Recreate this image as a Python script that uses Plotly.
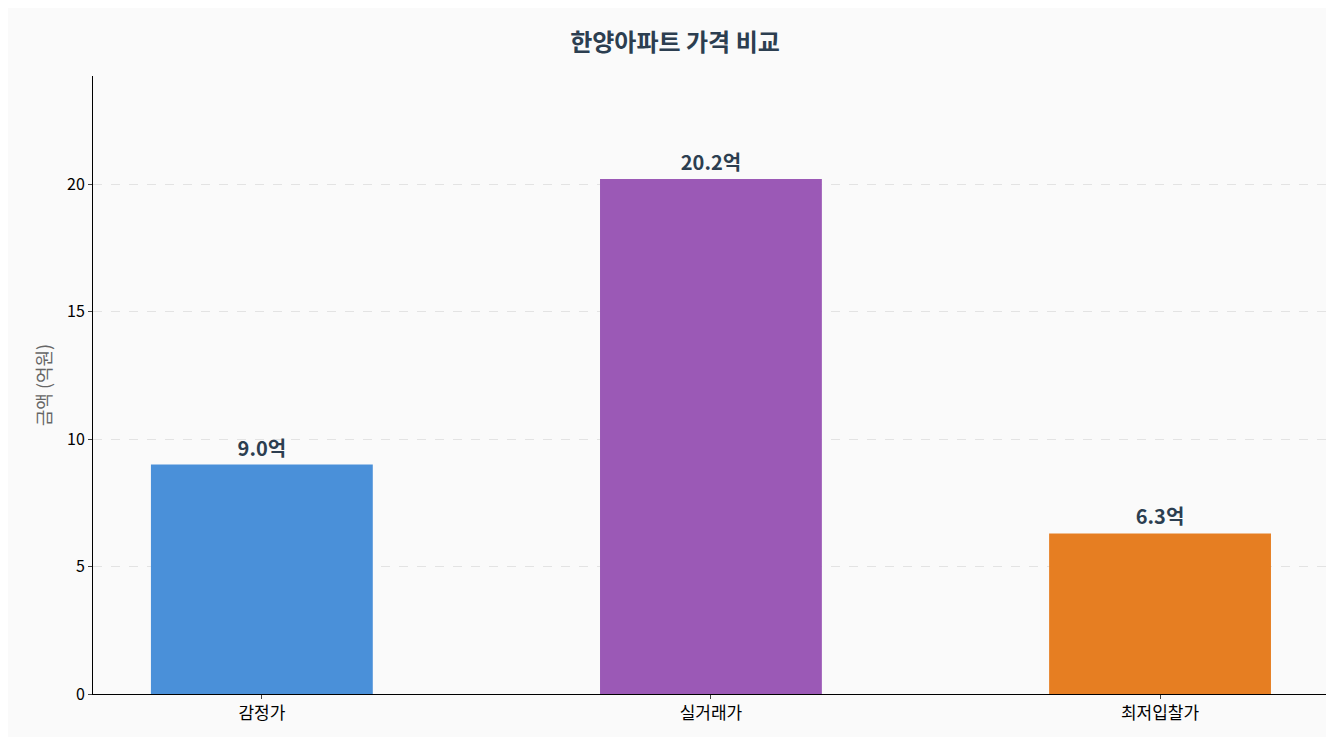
import plotly.graph_objects as go

categories = ["감정가", "실거래가", "최저입찰가"]
values = [9.0, 20.2, 6.3]
labels = ["9.0억", "20.2억", "6.3억"]
colors = ["#4a90d9", "#9b59b6", "#e67e22"]

fig = go.Figure(go.Bar(
    x=[0, 1, 2], y=values, width=0.494, marker=dict(color=colors, line=dict(width=0)),
    text=labels, textposition="outside", cliponaxis=False,
    textfont=dict(family="Noto Sans CJK KR", size=20, color="#2c3e50", weight="bold"),
))
fig.update_layout(
    width=1334, height=737,
    paper_bgcolor="#fafafa", plot_bgcolor="#fafafa",
    margin=dict(l=85, r=14, t=68, b=51),
    font=dict(family="Noto Sans CJK KR", size=15, color="#000"),
    title=dict(text="<b>한양아파트 가격 비교</b>", x=0.5, xanchor="center", y=0.965,
               font=dict(size=24, color="#2c3e50")),
    showlegend=False,
    xaxis=dict(range=[-0.376, 2.374], tickvals=[0, 1, 2], ticktext=categories,
               showline=True, linecolor="#000", ticks="outside", ticklen=4,
               showgrid=False, zeroline=False, tickfont=dict(size=17)),
    yaxis=dict(range=[0, 24.24], tickvals=[0, 5, 10, 15, 20],
               showline=True, linecolor="#000", ticks="outside", ticklen=4,
               gridcolor="#e3e3e3", griddash="dash", zeroline=False,
               title=dict(text="금액 (억원)", font=dict(size=18, color="#666"), standoff=10),
               tickfont=dict(size=16)),
)
fig.write_html("out.html")
